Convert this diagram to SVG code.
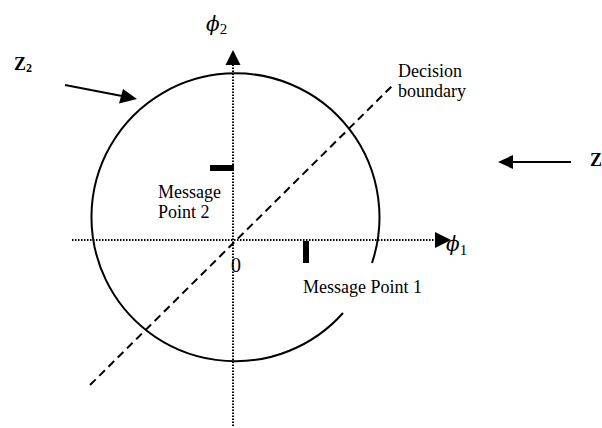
<svg xmlns="http://www.w3.org/2000/svg" width="602" height="428" viewBox="0 0 602 428">
<style>
text{font-family:"Liberation Serif","Times New Roman",serif;fill:#000}
.lbl{font-size:18px}
.sym{font-family:"DejaVu Serif",serif;font-size:20px;font-style:italic}
.sub{font-family:"Liberation Serif","Times New Roman",serif;font-size:15px;font-style:normal}
.bold{font-weight:bold;font-size:18px}
.axis{stroke:#000;stroke-width:2;stroke-dasharray:1.5 1.5;fill:none}
.solid{stroke:#000;stroke-width:2;fill:none}
.dash{stroke:#000;stroke-width:2;stroke-dasharray:8 5;fill:none}
</style>
<g id="connectors">
<line class="axis" x1="72" y1="240" x2="436" y2="240"/>
<path d="M435,232 L451,240 L435,248 Z" fill="#000"/>
<line class="axis" x1="233" y1="426" x2="233" y2="64"/>
<path d="M225.5,65 L233,50 L240.5,65 Z" fill="#000"/>
<path class="solid" d="M372,263 A144,144 0 1 0 343,313"/>
<line class="dash" x1="90" y1="385" x2="393" y2="85"/>
<line class="solid" x1="65" y1="85" x2="122" y2="96"/>
<path d="M137,99 L119,103.5 L123,89 Z" fill="#000"/>
<line class="solid" x1="571" y1="162" x2="510" y2="162"/>
<path d="M498,162 L513,155 L513,169 Z" fill="#000"/>
</g>
<g id="phi2"><text class="sym" x="206" y="31">ϕ<tspan class="sub" dy="3">2</tspan></text></g>
<g id="phi1"><text class="sym" x="446" y="251">ϕ<tspan class="sub" dy="4">1</tspan></text></g>
<g id="origin"><text class="lbl" x="231" y="272" style="font-size:20px">0</text></g>
<g id="z2"><text class="bold" x="14" y="70">Z<tspan style="font-size:12px" dy="2">2</tspan></text></g>
<g id="z"><text class="bold" x="590" y="166">Z</text></g>
<g id="decision"><text class="lbl" x="398" y="77">Decision</text><text class="lbl" x="398" y="97">boundary</text></g>
<g id="mp2"><rect x="210" y="165" width="24" height="6" fill="#000"/><text class="lbl" x="158" y="198">Message</text><text class="lbl" x="158" y="218">Point 2</text></g>
<g id="mp1"><rect x="303" y="241" width="6" height="22" fill="#000"/><text class="lbl" x="303" y="293">Message Point 1</text></g>
</svg>
